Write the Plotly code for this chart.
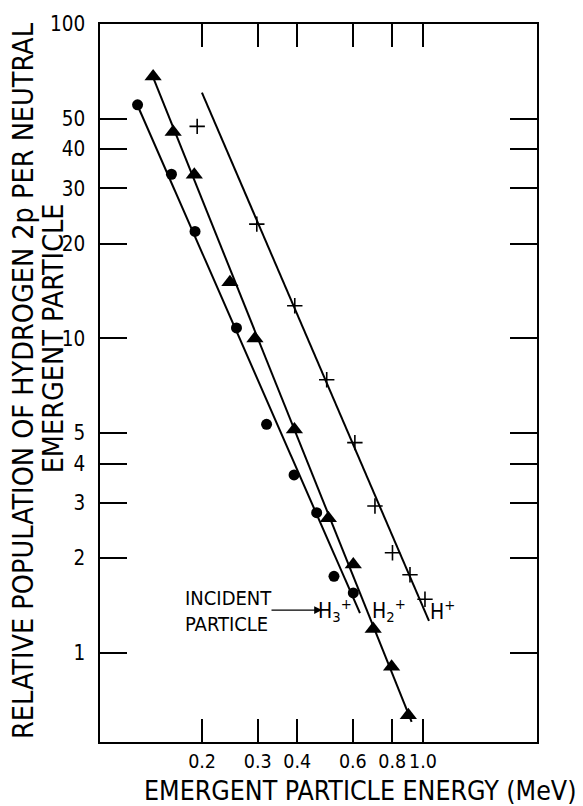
import plotly.graph_objects as go

# ---- data ----
h3_energy = [0.125, 0.160, 0.190, 0.257, 0.320, 0.391, 0.461, 0.523, 0.602]
h3_pop = [55.4, 33.3, 21.9, 10.8, 5.33, 3.68, 2.79, 1.75, 1.55]

h2_energy = [0.140, 0.162, 0.189, 0.245, 0.294, 0.392, 0.502, 0.602, 0.696, 0.796, 0.899]
h2_pop = [68.2, 45.4, 33.2, 15.1, 10.0, 5.13, 2.68, 1.91, 1.19, 0.903, 0.633]

h1_energy = [0.193, 0.298, 0.393, 0.496, 0.609, 0.705, 0.801, 0.910, 1.015]
h1_pop = [47.3, 23.1, 12.7, 7.39, 4.66, 2.93, 2.08, 1.77, 1.48]

# fitted straight lines (end points)
h3_fit_energy = [0.1247, 0.632]
h3_fit_pop = [55.4, 1.337]
h2_fit_energy = [0.1401, 0.921]
h2_fit_pop = [67.6, 0.603]
h1_fit_energy = [0.1998, 1.045]
h1_fit_pop = [60.6, 1.262]

x_tickvals = [0.2, 0.3, 0.4, 0.6, 0.8, 1.0]
x_ticktext = ["0.2", "0.3", "0.4", "0.6", "0.8", "1.0"]
y_tickvals = [1, 2, 3, 4, 5, 10, 20, 30, 40, 50, 100]
y_ticktext = ["1", "2", "3", "4", "5", "10", "20", "30", "40", "50", "100"]

FONT = "Liberation Sans Narrow, DejaVu Sans Condensed, Liberation Sans, sans-serif"

fig = go.Figure()
line_style = dict(color="black", width=2)
for ex, py in [(h3_fit_energy, h3_fit_pop), (h2_fit_energy, h2_fit_pop), (h1_fit_energy, h1_fit_pop)]:
    fig.add_trace(go.Scatter(x=ex, y=py, mode="lines", line=line_style, showlegend=False, hoverinfo="skip"))

fig.add_trace(go.Scatter(x=h3_energy, y=h3_pop, mode="markers", name="H3+",
                         marker=dict(symbol="circle", size=11, color="black"), showlegend=False))
fig.add_trace(go.Scatter(x=h2_energy, y=h2_pop, mode="markers", name="H2+",
                         marker=dict(symbol="triangle-up", size=15, color="black"), showlegend=False))
fig.add_trace(go.Scatter(x=h1_energy, y=h1_pop, mode="markers", name="H+",
                         marker=dict(symbol="cross-thin", size=11, color="black",
                                     line=dict(color="black", width=1.6)), showlegend=False))

L, R, T, B = 100, 537, 18, 742
W, H = 583, 806

def px(xp):
    return (xp - L) / (R - L)

def py_(yp):
    return (B - yp) / (B - T)

fig.update_layout(
    width=W, height=H,
    margin=dict(l=L, r=W - R, t=T, b=H - B, pad=0),
    paper_bgcolor="white", plot_bgcolor="white",
    font=dict(family=FONT, color="black"),
    showlegend=False,
    xaxis=dict(type="log", range=[-1.022, 0.361], tickvals=x_tickvals, ticktext=x_ticktext,
               ticks="inside", ticklen=23, tickwidth=1.5, tickcolor="black", tickangle=0,
               showline=True, linecolor="black", linewidth=1.5, mirror="allticks",
               showgrid=False, zeroline=False, tickfont=dict(size=19.5, family=FONT),
               ticklabelstandoff=1),
    yaxis=dict(type="log", range=[-0.284, 2.0005], tickvals=y_tickvals, ticktext=y_ticktext,
               ticks="inside", ticklen=27, tickwidth=1.5, tickcolor="black",
               showline=True, linecolor="black", linewidth=1.5, mirror="allticks",
               showgrid=False, zeroline=False, tickfont=dict(size=20.5, family=FONT),
               ticklabelstandoff=9),
)

ann = []
# axis titles
ann.append(dict(text="EMERGENT PARTICLE ENERGY (MeV)", xref="paper", yref="paper",
                x=px(360), y=py_(791), xanchor="center", yanchor="middle",
                showarrow=False, font=dict(size=26.5, family=FONT)))
ann.append(dict(text="RELATIVE POPULATION OF HYDROGEN 2p PER NEUTRAL", xref="paper", yref="paper",
                x=px(23), y=py_(378), xanchor="center", yanchor="middle", textangle=-90,
                showarrow=False, font=dict(size=28.5, family=FONT)))
ann.append(dict(text="EMERGENT PARTICLE", xref="paper", yref="paper",
                x=px(53), y=py_(335), xanchor="center", yanchor="middle", textangle=-90,
                showarrow=False, font=dict(size=28.5, family=FONT)))
# incident particle note
ann.append(dict(text="INCIDENT<br>PARTICLE", xref="paper", yref="paper", align="left",
                x=px(183), y=py_(610), xanchor="left", yanchor="middle",
                showarrow=False, font=dict(size=20, family=FONT)))
ann.append(dict(text="", xref="paper", yref="paper", axref="pixel", ayref="pixel",
                x=px(322), y=py_(609), ax=-52, ay=0, showarrow=True,
                arrowhead=2, arrowsize=1.2, arrowwidth=1.3, arrowcolor="black"))
# particle labels
for txt, xp in [("H<sub>3</sub><sup>+</sup>", 335), ("H<sub>2</sub><sup>+</sup>", 389), ("H<sup>+</sup>", 442)]:
    ann.append(dict(text=txt, xref="paper", yref="paper", x=px(xp), y=py_(609),
                    xanchor="center", yanchor="middle", showarrow=False,
                    font=dict(size=21, family=FONT)))
fig.update_layout(annotations=ann)

fig.write_html("out.html")
